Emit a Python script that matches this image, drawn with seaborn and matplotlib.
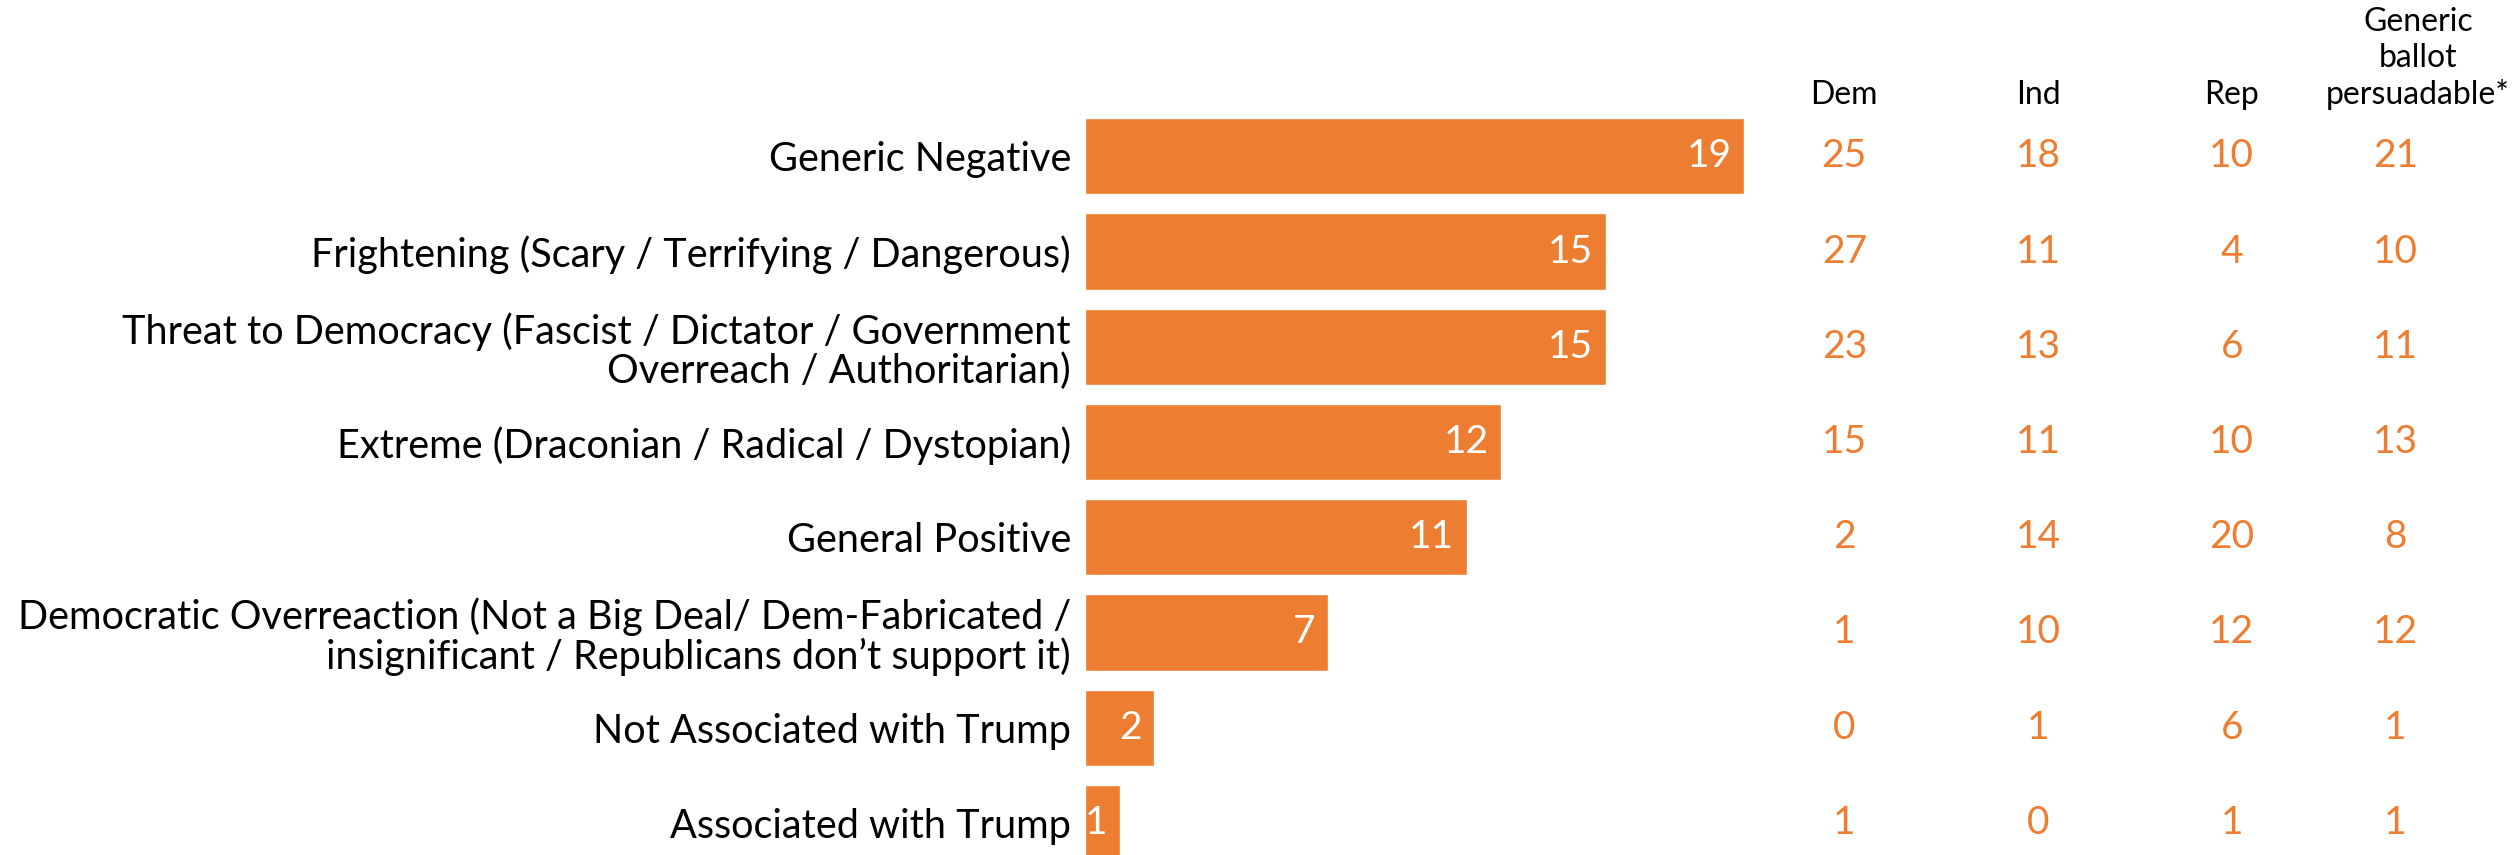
import matplotlib
matplotlib.use("Agg")
import matplotlib.pyplot as plt
import matplotlib.transforms as mtransforms
import seaborn as sns
import pandas as pd

# Данные
categories = [
    "Generic Negative",
    "Frightening (Scary / Terrifying / Dangerous)",
    "Threat to Democracy (Fascist / Dictator / Government\nOverreach / Authoritarian)",
    "Extreme (Draconian / Radical / Dystopian)",
    "General Positive",
    "Democratic Overreaction (Not a Big Deal/ Dem-Fabricated /\ninsignificant / Republicans don\u2019t support it)",
    "Not Associated with Trump",
    "Associated with Trump",
]
total = [19, 15, 15, 12, 11, 7, 2, 1]
dem = [25, 27, 23, 15, 2, 1, 0, 1]
ind = [18, 11, 13, 11, 14, 10, 1, 0]
rep = [10, 4, 6, 10, 20, 12, 6, 1]
persuadable = [21, 10, 11, 13, 8, 12, 1, 1]
column_headers = ["Dem", "Ind", "Rep", "Generic\nballot\npersuadable*"]

ORANGE = "#ED7D31"

sns.set_theme(style="white")
plt.rcParams["font.family"] = ["Lato", "DejaVu Sans"]

df = pd.DataFrame({"category": categories, "total": total})

W, H = 2516, 855
fig = plt.figure(figsize=(W / 100, H / 100), dpi=100)
ax = fig.add_axes([1085 / W, 0, (W - 1085) / W, 1])

sns.barplot(data=df, x="total", y="category", orient="h", color=ORANGE,
            saturation=1, width=0.8, ax=ax)

ax.set_xlim(0, (W - 1085) / 34.7)
ax.set_ylim(7 + (H - 823) / 95, -156 / 95)
ax.set_xlabel("")
ax.set_ylabel("")
ax.set_xticks([])
ax.tick_params(axis="y", length=0, pad=10, labelsize=28.5, labelcolor="black")
for lbl in ax.get_yticklabels():
    lbl.set_linespacing(1.05)
sns.despine(ax=ax, left=True, bottom=True)

# Значения внутри столбцов
for i, v in enumerate(total):
    ax.annotate(str(v), (v, i), xytext=(-9, 0), textcoords="offset points",
                ha="right", va="center", color="white", fontsize=28)

# Таблица по группам
trans = mtransforms.blended_transform_factory(fig.transFigure, ax.transData)
col_x = [0.733, 0.810, 0.887, 0.952]
for x, col in zip(col_x, [dem, ind, rep, persuadable]):
    for i, v in enumerate(col):
        ax.text(x, i, str(v), transform=trans, ha="center", va="center",
                color=ORANGE, fontsize=28)

header_x = [0.733, 0.810, 0.887, 0.961]
for x, h in zip(header_x, column_headers):
    fig.text(x, 1 - 110 / H, h, ha="center", va="bottom", fontsize=23,
             color="black", linespacing=1.25)

fig.savefig("out.png", dpi=100)
